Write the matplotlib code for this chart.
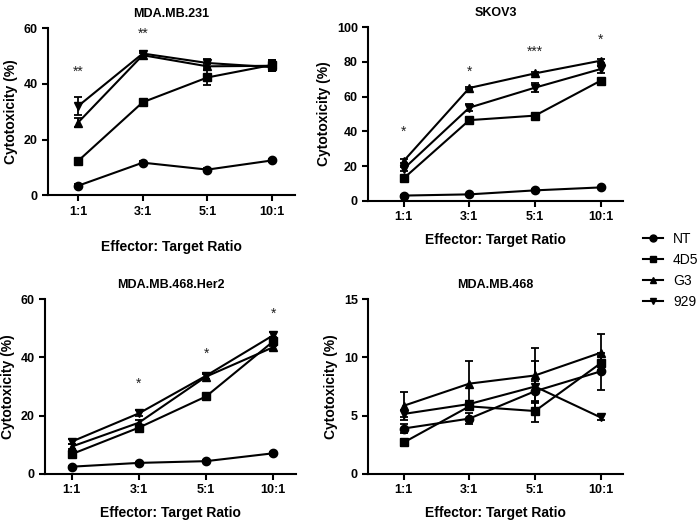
import matplotlib
matplotlib.use('Agg')
import matplotlib.pyplot as plt
from matplotlib.lines import Line2D
import numpy as np

plt.rcParams['font.family'] = ['Liberation Sans', 'DejaVu Sans']

ratios = ['1:1', '3:1', '5:1', '10:1']
groups = ['NT', '4D5', 'G3', '929']
markers = {'NT': 'o', '4D5': 's', 'G3': '^', '929': 'v'}

# MDA.MB.231
mb231_mean = {'NT': [3.4, 11.7, 9.2, 12.5],
              '4D5': [12.3, 33.4, 42.3, 46.8],
              'G3': [26.1, 50.3, 46.3, 46.5],
              '929': [32.0, 50.9, 47.5, 46.0]}
mb231_err = {'NT': [0.5, 0.6, 0.6, 0.5],
             '4D5': [0.8, 0.9, 2.7, 1.6],
             'G3': [1.5, 0.8, 1.0, 2.0],
             '929': [3.2, 1.0, 1.6, 1.2]}
mb231_stars = [(0, 44.5, '**'), (1, 58.0, '**')]

# SKOV3
skov3_mean = {'NT': [3.1, 3.8, 6.1, 7.8],
              '4D5': [13.0, 46.5, 49.1, 69.2],
              'G3': [23.0, 65.0, 73.4, 80.7],
              '929': [18.5, 53.7, 65.2, 75.9]}
skov3_err = {'NT': [0.4, 0.4, 0.5, 0.5],
             '4D5': [0.8, 1.0, 0.8, 1.0],
             'G3': [1.0, 0.8, 0.8, 1.2],
             '929': [1.2, 2.0, 2.5, 2.0]}
skov3_stars = [(0, 40.0, '*'), (1, 74.5, '*'), (2, 86.0, '***'), (3, 93.0, '*')]

# MDA.MB.468.Her2
her2_mean = {'NT': [2.5, 3.8, 4.4, 7.1],
             '4D5': [6.8, 15.9, 26.6, 45.5],
             'G3': [9.4, 17.6, 33.4, 43.5],
             '929': [11.1, 20.8, 33.7, 47.6]}
her2_err = {'NT': [0.4, 0.4, 0.4, 0.5],
            '4D5': [0.8, 0.8, 1.0, 1.5],
            'G3': [0.8, 0.8, 0.8, 1.0],
            '929': [0.8, 1.0, 1.0, 1.0]}
her2_stars = [(1, 31.0, '*'), (2, 41.2, '*'), (3, 54.8, '*')]

# MDA.MB.468
mb468_mean = {'NT': [3.9, 4.75, 7.1, 8.8],
              '4D5': [2.7, 5.8, 5.4, 9.5],
              'G3': [5.85, 7.75, 8.45, 10.4],
              '929': [5.15, 6.0, 7.5, 4.85]}
mb468_err = {'NT': [0.4, 0.45, 0.9, 1.6],
             '4D5': [0.3, 0.3, 0.9, 0.6],
             'G3': [1.2, 1.9, 2.35, 1.6],
             '929': [0.3, 0.3, 2.2, 0.2]}
mb468_stars = []

panels = [
    ('MDA.MB.231', mb231_mean, mb231_err, mb231_stars, 60, [0, 20, 40, 60],
     [0.069, 0.626, 0.352, 0.320], (-0.46, 3.35), 16),
    ('SKOV3', skov3_mean, skov3_err, skov3_stars, 100, [0, 20, 40, 60, 80, 100],
     [0.526, 0.615, 0.364, 0.333], (-0.54, 3.34), 7),
    ('MDA.MB.468.Her2', her2_mean, her2_err, her2_stars, 60, [0, 20, 40, 60],
     [0.064, 0.092, 0.359, 0.335], (-0.40, 3.34), 7),
    ('MDA.MB.468', mb468_mean, mb468_err, mb468_stars, 15, [0, 5, 10, 15],
     [0.526, 0.092, 0.364, 0.335], (-0.54, 3.34), 7),
]

fig = plt.figure(figsize=(7, 5.22), dpi=100)
x = np.arange(len(ratios))

for title, means, errs, stars, ymax, yticks, rect, xlim, pad in panels:
    ax = fig.add_axes(rect)
    for g in groups:
        ax.errorbar(x, means[g], yerr=errs[g], color='black', marker=markers[g],
                    markersize=6, linewidth=1.5, elinewidth=1.3, capsize=3,
                    capthick=1.3, label=g)
    for xi, yi, s in stars:
        ax.text(xi, yi, s, ha='center', va='center', fontsize=10, color='#222222')
    ax.set_xlim(*xlim)
    ax.set_ylim(0, ymax)
    ax.set_xticks(x)
    ax.set_xticklabels(ratios, fontsize=9, fontweight='bold')
    ax.set_yticks(yticks)
    ax.set_yticklabels([str(t) for t in yticks], fontsize=9, fontweight='bold')
    ax.spines['top'].set_visible(False)
    ax.spines['right'].set_visible(False)
    ax.spines['left'].set_linewidth(1.5)
    ax.spines['bottom'].set_linewidth(1.5)
    ax.tick_params(width=1.5, length=4, direction='out')
    ax.set_title(title, fontsize=9, fontweight='bold', pad=8)
    ax.set_ylabel('Cytotoxicity (%)', fontsize=10, fontweight='bold')
    ax.set_xlabel('Effector: Target Ratio', fontsize=10, fontweight='bold', labelpad=pad)

handles = [Line2D([], [], color='black', marker=markers[g], markersize=5, linewidth=1.5)
           for g in groups]
fig.legend(handles, groups, loc='upper left', bbox_to_anchor=(0.9, 0.579),
           frameon=False, fontsize=10, handlelength=1.5, labelspacing=0.5,
           handletextpad=0.7)

fig.savefig('out.png', dpi=100)
